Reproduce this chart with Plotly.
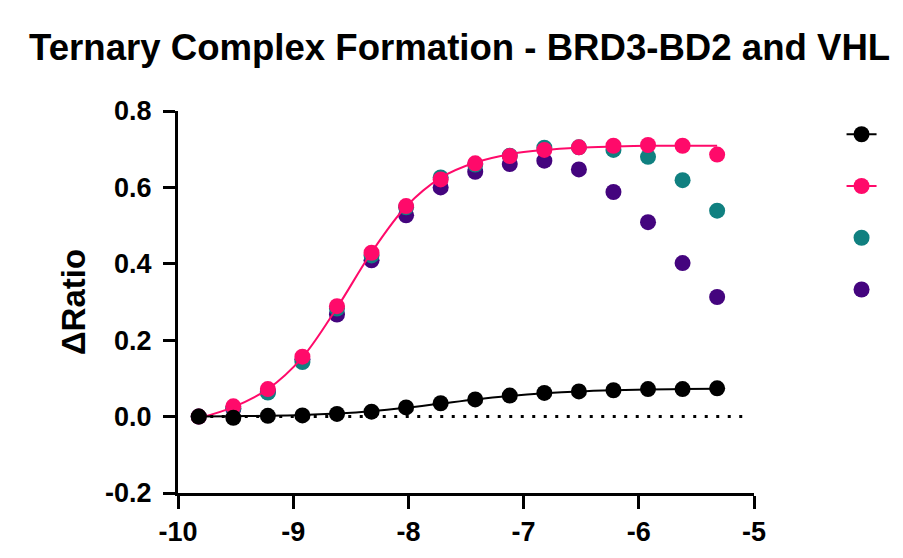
import plotly.graph_objects as go

# log10 of concentration (M), two-fold dilution series
log_conc = [-9.82, -9.52, -9.22, -8.92, -8.62, -8.32, -8.02, -7.72,
            -7.42, -7.12, -6.82, -6.52, -6.22, -5.92, -5.62, -5.32]

# ΔRatio per series
black_vals = [0.000, -0.003, 0.002, 0.003, 0.007, 0.013, 0.024, 0.035,
              0.045, 0.055, 0.062, 0.066, 0.069, 0.072, 0.072, 0.074]
pink_vals = [0.000, 0.027, 0.072, 0.157, 0.289, 0.429, 0.551, 0.621,
             0.663, 0.682, 0.698, 0.705, 0.709, 0.711, 0.709, 0.686]
teal_vals = [0.000, 0.022, 0.063, 0.143, 0.283, 0.422, 0.548, 0.626,
             0.660, 0.683, 0.704, 0.705, 0.698, 0.680, 0.619, 0.539]
purple_vals = [0.000, 0.020, 0.065, 0.150, 0.267, 0.409, 0.527, 0.600,
               0.641, 0.661, 0.670, 0.647, 0.588, 0.509, 0.402, 0.313]

# fitted curves evaluated at the same concentrations
black_fit = [0.000, 0.001, 0.002, 0.004, 0.008, 0.014, 0.023, 0.034,
             0.045, 0.054, 0.061, 0.066, 0.069, 0.071, 0.072, 0.073]
pink_fit = [-0.004, 0.025, 0.072, 0.155, 0.285, 0.430, 0.550, 0.625,
            0.665, 0.687, 0.698, 0.704, 0.707, 0.709, 0.709, 0.709]

x_ticks = [-10, -9, -8, -7, -6, -5]
y_ticks = [-0.2, 0.0, 0.2, 0.4, 0.6, 0.8]

BLACK = "#000000"
PINK = "#FF0A6A"
TEAL = "#108080"
PURPLE = "#44047E"
MS = 16
FONT = "Arial, Liberation Sans, sans-serif"

fig = go.Figure()

fig.add_trace(go.Scatter(x=log_conc, y=purple_vals, mode="markers",
                         marker=dict(color=PURPLE, size=MS), name=" ",
                         legendrank=4, cliponaxis=False))
fig.add_trace(go.Scatter(x=log_conc, y=teal_vals, mode="markers",
                         marker=dict(color=TEAL, size=MS), name=" ",
                         legendrank=3, cliponaxis=False))
fig.add_trace(go.Scatter(x=log_conc, y=pink_fit, mode="lines",
                         line=dict(color=PINK, width=2, shape="spline"),
                         showlegend=False, cliponaxis=False))
fig.add_trace(go.Scatter(x=log_conc, y=pink_vals, mode="markers",
                         marker=dict(color=PINK, size=MS), showlegend=False,
                         cliponaxis=False))
fig.add_trace(go.Scatter(x=log_conc, y=black_fit, mode="lines",
                         line=dict(color=BLACK, width=2, shape="spline"),
                         showlegend=False, cliponaxis=False))
fig.add_trace(go.Scatter(x=log_conc, y=black_vals, mode="markers",
                         marker=dict(color=BLACK, size=MS), showlegend=False,
                         cliponaxis=False))

# legend entries showing symbol with line for the fitted series
fig.add_trace(go.Scatter(x=[None], y=[None], mode="lines+markers",
                         line=dict(color=BLACK, width=2),
                         marker=dict(color=BLACK, size=MS), name=" ",
                         legendrank=1))
fig.add_trace(go.Scatter(x=[None], y=[None], mode="lines+markers",
                         line=dict(color=PINK, width=2),
                         marker=dict(color=PINK, size=MS), name=" ",
                         legendrank=2))

# dotted baseline at zero
fig.add_shape(type="line", x0=log_conc[0], x1=-5.08, y0=0, y1=0,
              xref="x", yref="y",
              line=dict(color=BLACK, width=3, dash="3px,8.5px"))

fig.update_layout(
    width=903, height=558,
    margin=dict(l=178, r=149, t=111, b=65, autoexpand=False),
    paper_bgcolor="white", plot_bgcolor="white",
    font=dict(family=FONT, color="black"),
    title=dict(text="<b>Ternary Complex Formation - BRD3-BD2 and VHL</b>",
               x=0.509, xanchor="center", y=0.915, yanchor="middle",
               font=dict(size=36.6, family=FONT, color="black")),
    showlegend=True,
    legend=dict(x=1.152, xanchor="left", y=1.02, yanchor="top",
                font=dict(size=37.5, family=FONT), bgcolor="rgba(0,0,0,0)",
                traceorder="normal", itemwidth=30),
)

fig.update_xaxes(range=[-10, -5], tickvals=x_ticks,
                 ticktext=[f"<b>{v}</b>" for v in x_ticks],
                 showgrid=False, zeroline=False,
                 showline=True, linecolor=BLACK, linewidth=3,
                 ticks="outside", ticklen=13, tickwidth=3, tickcolor=BLACK,
                 tickfont=dict(size=27, family=FONT, color="black"))
fig.update_yaxes(range=[-0.2, 0.8], tickvals=y_ticks,
                 ticktext=[f"<b>{v:.1f}</b>" for v in y_ticks],
                 showgrid=False, zeroline=False,
                 showline=True, linecolor=BLACK, linewidth=3,
                 ticks="outside", ticklen=12, tickwidth=3, tickcolor=BLACK,
                 ticklabelstandoff=6,
                 tickfont=dict(size=27, family=FONT, color="black"),
                 title=dict(text="<b>ΔRatio</b>", standoff=10,
                            font=dict(size=33, family=FONT, color="black")))

fig.write_html("out.html")
